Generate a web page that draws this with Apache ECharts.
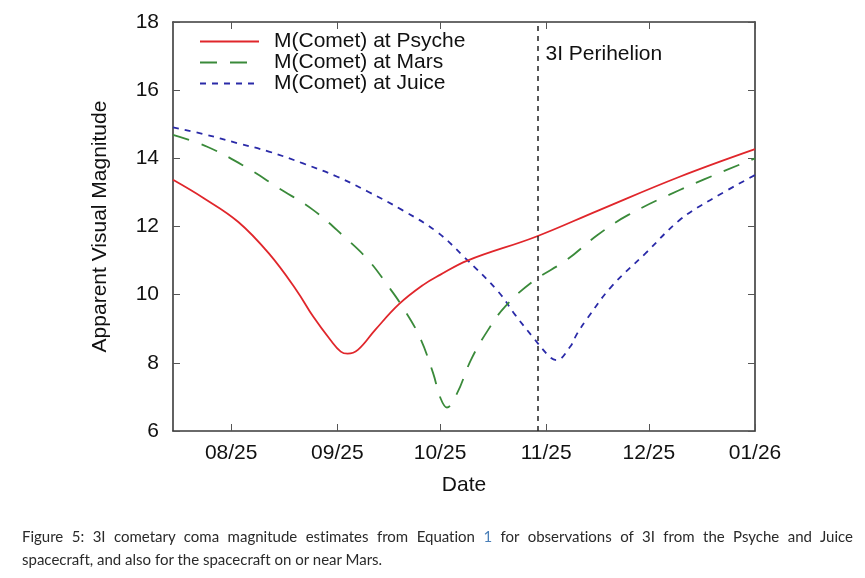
<!DOCTYPE html>
<html>
<head>
<meta charset="utf-8">
<script src="https://cdn.jsdelivr.net/npm/echarts@6/dist/echarts.min.js"></script>
<style>
  html, body { margin: 0; padding: 0; background: #fff; }
  #wrap { position: relative; width: 865px; height: 578px; }
  #chart { position: absolute; left: 0; top: 0; width: 865px; height: 578px; }
  #caption {
    position: absolute; left: 22px; top: 525px; width: 831px;
    font-family: Lato, "Noto Sans", sans-serif; font-size: 15px;
    line-height: 23px; color: #2a2a2a; font-variant-ligatures: none;
  }
  #caption .l1 { text-align: justify; text-align-last: justify; }
  #caption .ref { color: #4a7fb8; }
</style>
</head>
<body>
<div id="wrap">
  <div id="chart"></div>
  <div id="caption">
    <div class="l1">Figure 5: 3I cometary coma magnitude estimates from Equation <span class="ref">1</span> for observations of 3I from the Psyche and Juice</div>
    <div>spacecraft, and also for the spacecraft on or near Mars.</div>
  </div>
</div>
<script>
// month ticks on the date axis
const xTickDates = ['2025-08-01', '2025-09-01', '2025-10-01', '2025-11-01', '2025-12-01', '2026-01-01'];
const xMin = '2025-07-15';
const xMax = '2026-01-01';
const perihelionDate = '2025-10-29';

// M(Comet) at Psyche
const psycheDates = ['2025-07-15', '2025-07-24', '2025-08-03', '2025-08-12', '2025-08-20', '2025-08-25',
  '2025-08-30', '2025-09-02', '2025-09-04', '2025-09-07', '2025-09-12', '2025-09-19', '2025-09-26',
  '2025-10-01', '2025-10-09', '2025-10-29', '2025-11-16', '2025-12-10', '2026-01-01'];
const psycheMag = [13.37, 12.83, 12.14, 11.21, 10.14, 9.35,
  8.67, 8.33, 8.27, 8.38, 8.96, 9.72, 10.28,
  10.58, 11.0, 11.70, 12.46, 13.46, 14.27];

// M(Comet) at Mars
const marsDates = ['2025-07-15', '2025-07-25', '2025-08-05', '2025-08-15', '2025-08-25', '2025-09-03',
  '2025-09-10', '2025-09-16', '2025-09-20', '2025-09-25', '2025-09-29', '2025-10-01', '2025-10-03',
  '2025-10-06', '2025-10-10', '2025-10-15', '2025-10-20', '2025-10-28', '2025-11-07', '2025-11-16',
  '2025-11-25', '2025-12-10', '2026-01-01'];
const marsMag = [14.69, 14.34, 13.76, 13.12, 12.48, 11.70,
  11.02, 10.23, 9.65, 8.77, 7.69, 7.0, 6.69,
  7.11, 8.08, 8.96, 9.65, 10.38, 11.02, 11.75,
  12.34, 13.07, 14.0];

// M(Comet) at Juice
const juiceDates = ['2025-07-15', '2025-07-24', '2025-08-03', '2025-08-12', '2025-08-22', '2025-09-01',
  '2025-09-10', '2025-09-20', '2025-09-30', '2025-10-08', '2025-10-18', '2025-10-23', '2025-10-28',
  '2025-11-02', '2025-11-04', '2025-11-08', '2025-11-10', '2025-11-13', '2025-11-20', '2025-11-30',
  '2025-12-10', '2025-12-19', '2026-01-01'];
const juiceMag = [14.91, 14.71, 14.44, 14.20, 13.85, 13.46,
  13.02, 12.48, 11.85, 11.11, 10.09, 9.40, 8.77,
  8.18, 8.08, 8.47, 8.85, 9.30, 10.23, 11.21,
  12.19, 12.78, 13.51];

function ts(s) {
  const p = s.split('-').map(Number);
  return Date.UTC(p[0], p[1] - 1, p[2]);
}
function pairs(dates, vals) {
  return dates.map((d, i) => [ts(d), vals[i]]);
}
function monthLabel(v) {
  const d = new Date(v);
  const m = d.getUTCMonth() + 1;
  return (m < 10 ? '0' + m : '' + m) + '/' + String(d.getUTCFullYear()).slice(2);
}

const tickVals = xTickDates.map(ts);
const perihelionTs = ts(perihelionDate) + 11 * 3600 * 1000;
const font = 'Liberation Sans, Arial, Helvetica, sans-serif';
const frame = { color: '#3a3a3a', width: 1.6 };

const chart = echarts.init(document.getElementById('chart'));

chart.setOption({
  animation: false,
  backgroundColor: '#fff',
  grid: { left: 173, right: 110, top: 22, bottom: 147 },
  legend: {
    orient: 'vertical',
    left: 194,
    top: 26,
    itemWidth: 59,
    itemHeight: 14,
    itemGap: 0,
    selectedMode: false,
    itemStyle: { opacity: 0, borderWidth: 0 },
    textStyle: { fontFamily: font, fontSize: 21, color: '#111', lineHeight: 21, padding: [0, 0, 0, 10] },
    data: ['M(Comet) at Psyche', 'M(Comet) at Mars', 'M(Comet) at Juice']
  },
  xAxis: [{
    type: 'value',
    min: ts(xMin),
    max: ts(xMax),
    name: 'Date',
    nameLocation: 'middle',
    nameGap: 44,
    nameTextStyle: { fontFamily: font, fontSize: 21, color: '#111' },
    axisLine: { lineStyle: frame },
    axisTick: { inside: true, length: 7, lineStyle: { color: '#555', width: 1 }, customValues: tickVals },
    axisLabel: { fontFamily: font, fontSize: 21, color: '#111', margin: 12, customValues: tickVals, formatter: monthLabel },
    splitLine: { show: false }
  }, {
    type: 'value',
    position: 'top',
    min: ts(xMin),
    max: ts(xMax),
    axisLine: { lineStyle: frame },
    axisTick: { inside: true, length: 7, lineStyle: { color: '#555', width: 1 }, customValues: tickVals },
    axisLabel: { show: false },
    splitLine: { show: false }
  }],
  yAxis: [{
    type: 'value',
    min: 6,
    max: 18,
    interval: 2,
    name: 'Apparent Visual Magnitude',
    nameLocation: 'middle',
    nameGap: 62,
    nameTextStyle: { fontFamily: font, fontSize: 21, color: '#111' },
    axisLine: { show: true, lineStyle: frame },
    axisTick: { show: true, inside: true, length: 7, lineStyle: { color: '#555', width: 1 } },
    axisLabel: { fontFamily: font, fontSize: 21, color: '#111', margin: 14 },
    splitLine: { show: false }
  }, {
    type: 'value',
    position: 'right',
    min: 6,
    max: 18,
    interval: 2,
    axisLine: { show: true, lineStyle: frame },
    axisTick: { show: true, inside: true, length: 7, lineStyle: { color: '#555', width: 1 } },
    axisLabel: { show: false },
    splitLine: { show: false }
  }],
  series: [{
    name: 'M(Comet) at Psyche',
    type: 'line',
    data: pairs(psycheDates, psycheMag),
    symbol: 'none',
    smooth: 0.4,
    lineStyle: { color: '#e0262b', width: 1.8 },
    itemStyle: { color: '#e0262b' },
    z: 4,
    markLine: {
      silent: true,
      symbol: 'none',
      label: { show: false },
      lineStyle: { color: '#222', width: 1.5, type: [5, 5] },
      data: [{ xAxis: perihelionTs }]
    }
  }, {
    name: 'M(Comet) at Mars',
    type: 'line',
    data: pairs(marsDates, marsMag),
    symbol: 'none',
    smooth: 0.4,
    lineStyle: { color: '#3a8a3a', width: 1.8, type: [17, 13] },
    itemStyle: { color: '#3a8a3a' },
    z: 3
  }, {
    name: 'M(Comet) at Juice',
    type: 'line',
    data: pairs(juiceDates, juiceMag),
    symbol: 'none',
    smooth: 0.4,
    lineStyle: { color: '#2a2aa8', width: 1.8, type: [6, 6] },
    itemStyle: { color: '#2a2aa8' },
    z: 2
  }]
});

const px = chart.convertToPixel({ xAxisIndex: 0 }, perihelionTs);
chart.setOption({
  graphic: [{
    type: 'text',
    left: px + 8,
    top: 44,
    style: { text: '3I Perihelion', fontFamily: font, fontSize: 21, fill: '#111' }
  }]
});
</script>
</body>
</html>
